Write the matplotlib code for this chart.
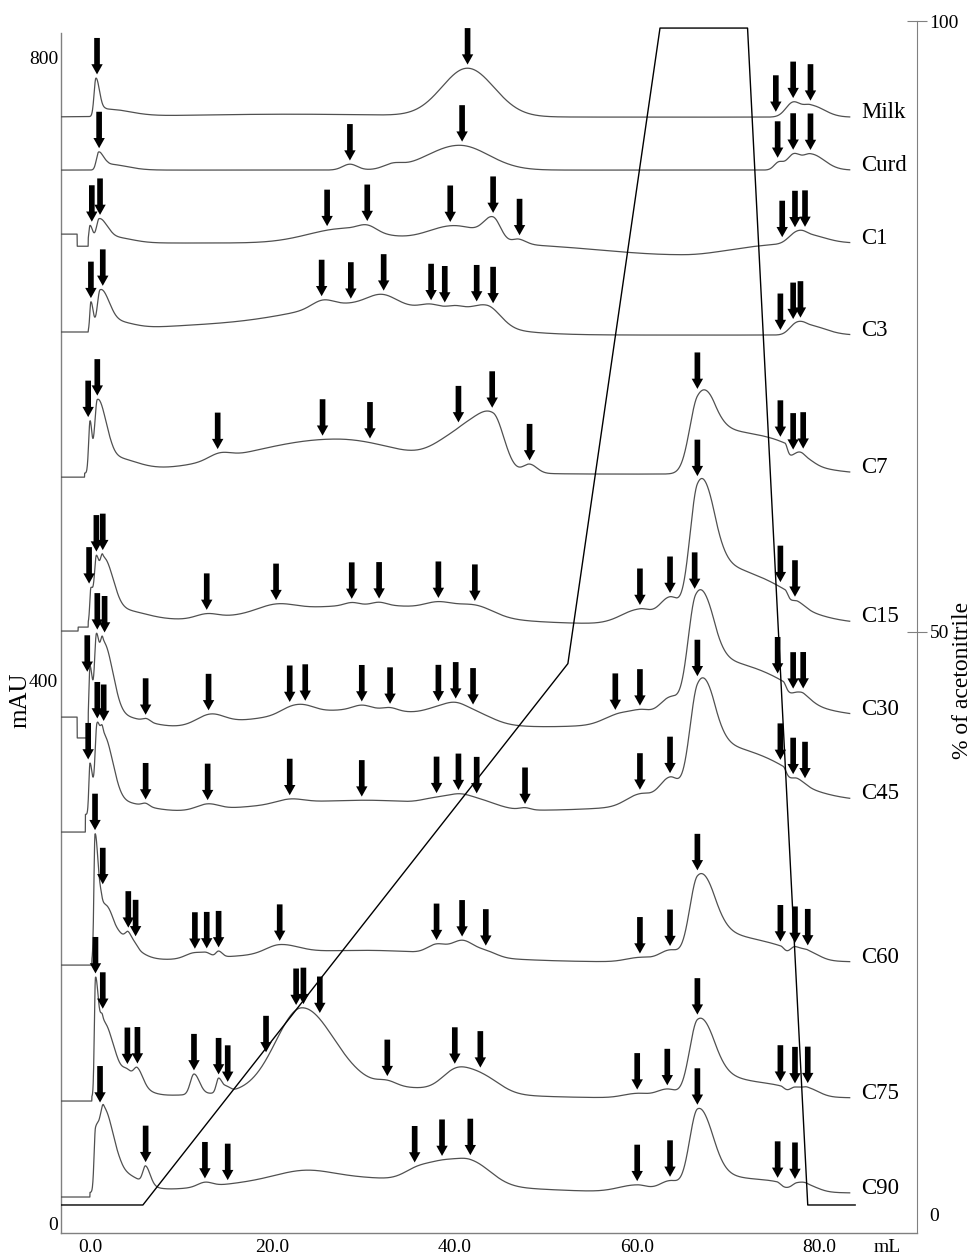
import numpy as np
import matplotlib
matplotlib.use("Agg")
import matplotlib.pyplot as plt
from matplotlib.patches import FancyArrow

plt.rcParams['font.family'] = ['Liberation Serif', 'DejaVu Serif']

# ---------------- data (x in mL, y in mAU) ----------------
samples = ["Milk", "Curd", "C1", "C3", "C7", "C15", "C30", "C45", "C60", "C75", "C90"]
baselines = [758.8, 722.5, 672.5, 609.4, 514.1, 411.3, 336.6, 280.4, 179.6, 86.4, 21.2]
# pre-injection flat segments: (end mL, level mAU)
pre_milk = []
pre_curd = []
pre_c1 = [(-1.4, 678.6), (-0.2, 670.3)]
pre_c3 = [(-0.2, 611.5)]
pre_c7 = [(-0.6, 512.0)]
pre_c15 = [(-1.3, 406.5), (-0.2, 409.2)]
pre_c30 = [(-1.4, 347.5), (-0.2, 333.2)]
pre_c45 = [(-0.5, 268.7)]
pre_c60 = [(0.2, 177.5)]
pre_c75 = [(0.2, 84.3)]
pre_c90 = [(0.0, 18.5)]

# peaks: (centre mL, height mAU, left width mL, right width mL)
peaks_milk = [(0.65, 26, 0.2, 0.4), (1.8, 5, 0.5, 2.5), (22, 2, 12, 12),
              (41.4, 33, 2.8, 2.9), (77.1, 10, 0.8, 0.8), (79.0, 8, 0.8, 1.5)]
peaks_curd = [(0.95, 12, 0.25, 0.5), (2.0, 4, 0.5, 2.0), (28.5, 4, 0.8, 0.8),
              (33.2, 3, 1.0, 1.0), (40.5, 17, 3.5, 3.2), (75.5, 5, 0.5, 0.5),
              (77.1, 10, 0.7, 0.7), (79.0, 11, 0.9, 1.5)]
peaks_c1 = [(0.0, 12, 0.12, 0.3), (1.0, 16, 0.3, 0.8), (2.5, 4, 0.8, 2.0),
            (28, 10, 4, 4), (30.4, 4, 1, 1), (40, 12, 3, 3), (44.2, 14, 1.0, 0.8),
            (47, 3, 0.6, 0.8), (65, -8, 9, 5), (77.3, 6, 0.8, 0.8), (78.5, 6, 0.8, 2)]
peaks_c3 = [(0.1, 20, 0.12, 0.25), (1.1, 26, 0.3, 0.9), (2.5, 6, 1, 2), (10, 5, 8, 8),
            (31, 22, 9, 8), (25.5, 5, 1.2, 1.2), (32, 6, 1.5, 1.5), (37.5, 5, 1.2, 1.2),
            (40, 5, 1, 1), (43.5, 14, 2, 1.5), (77.3, 6, 0.7, 0.7), (78.5, 7, 0.8, 2)]
peaks_c7 = [(0.0, 34, 0.15, 0.2), (0.8, 48, 0.3, 0.9), (2.5, 10, 1, 2.5),
            (14.2, 4, 1.2, 1.2), (27, 24, 10, 8), (40.5, 20, 2.5, 2), (44.2, 36, 2, 1.2),
            (48.2, 6, 0.7, 0.8), (66.6, 40, 0.9, 1.5), (68.5, 30, 1.5, 6.0),
            (76.2, 8, 3, 0.25), (77.6, 4, 0.5, 0.5), (78.3, 4, 0.5, 1)]
peaks_c15 = [(0.1, 24, 0.12, 0.3), (0.7, 40, 0.2, 0.3), (1.4, 42, 0.3, 1.0), (3, 9, 1, 3),
             (12.8, 3, 1.2, 1.2), (31, 13, 12, 9), (20.4, 5, 2, 2), (28.7, 2, 0.8, 0.8),
             (31.7, 2, 0.8, 0.8), (38.2, 5, 1.5, 1.5), (42.2, 7, 2, 2), (60.3, 10, 2, 1.2),
             (63.6, 18, 1.2, 1.0), (66.6, 78, 0.9, 1.5), (68.5, 40, 1.5, 6),
             (76.2, 6, 3, 0.3), (77.6, 3, 0.5, 0.8)]
peaks_c30 = [(0.0, 45, 0.12, 0.3), (0.7, 60, 0.2, 0.3), (1.4, 58, 0.3, 1.0), (3, 10, 1, 3),
             (6.2, 2, 0.4, 0.4), (13.2, 7, 1.5, 1.5), (30, 16, 12, 9), (21.9, 4, 1.2, 1.2),
             (23.6, 4, 1.2, 1.2), (29.8, 3, 1, 1), (32.9, 2, 0.8, 0.8), (38.2, 5, 1.5, 1.5),
             (40.1, 5, 1.2, 1.2), (42, 7, 2, 2), (75, 12, 15, 30), (57.6, 5, 1.5, 1.2),
             (60.3, 8, 1.5, 1.2), (63.6, 15, 1.2, 1), (66.4, 70, 0.9, 1.5), (68.5, 38, 1.5, 6),
             (76.0, 6, 3, 0.3), (77.6, 3, 0.5, 0.8), (78.3, 3, 0.5, 1)]
peaks_c45 = [(0.0, 35, 0.12, 0.3), (0.75, 55, 0.2, 0.3), (1.4, 52, 0.3, 1.0), (3, 8, 1, 3),
             (6.1, 2, 0.4, 0.4), (12.9, 4, 1.2, 1.2), (30, 10, 12, 9), (21.9, 3, 1.5, 1.5),
             (38, 4, 1.5, 1.5), (40.4, 4, 1.2, 1.2), (42.4, 6, 2, 2), (47.7, 1.5, 0.6, 0.6),
             (75, 10, 15, 30), (60.3, 8, 1.5, 1.2), (63.6, 18, 1.2, 1), (66.6, 64, 0.9, 1.5),
             (68.5, 38, 1.5, 6), (76.0, 6, 3, 0.3), (77.6, 3, 0.5, 0.8)]
peaks_c60 = [(0.55, 85, 0.12, 0.35), (1.3, 30, 0.3, 0.8), (2.5, 20, 0.8, 2.0), (4.2, 6, 0.3, 0.4),
             (5.0, 2, 0.3, 0.3), (11.5, 4, 1, 1), (12.8, 2, 0.5, 0.5), (14.1, 4, 0.3, 0.4),
             (20.8, 6, 1.5, 2), (30, 8, 12, 10), (38, 6, 1, 1), (40.8, 10, 1.2, 1.2),
             (43.4, 4, 1.2, 1.2), (60.3, 3, 1.5, 1.2), (63.6, 8, 1.2, 1), (66.6, 50, 0.9, 1.6),
             (68.5, 20, 1.5, 5), (75.7, 4, 2.5, 0.4), (77.3, 6, 0.5, 0.7), (78.7, 5, 0.6, 1.2)]
peaks_c75 = [(0.6, 80, 0.12, 0.35), (1.4, 45, 0.3, 0.9), (3, 18, 1, 2.0), (4.1, 3, 0.4, 0.4),
             (5.2, 10, 0.4, 0.6), (11.4, 14, 0.4, 0.6), (14.1, 10, 0.25, 0.4), (15.0, 3, 0.3, 0.4),
             (23.2, 55, 2.8, 3.5), (30, 8, 12, 10), (32.6, 3, 1, 1), (40.0, 12, 1.5, 1.5),
             (42.8, 12, 1.8, 2), (60, 3, 1.5, 1.2), (63.3, 6, 1.2, 1), (66.6, 47, 0.9, 1.6),
             (68.5, 15, 1.5, 5), (75.7, 3, 2, 0.4), (77.3, 4, 0.5, 0.7), (78.7, 5, 0.6, 1.2)]
peaks_c90 = [(0.6, 40, 0.15, 0.4), (1.5, 55, 0.4, 1.0), (3.5, 12, 1, 2), (6.1, 12, 0.3, 0.5),
             (12.6, 3, 0.8, 0.8), (26, 11, 10, 14), (23.5, 5, 3, 3), (36, 8, 1.5, 1.5),
             (38.6, 10, 1.5, 1.5), (41.7, 16, 1.8, 2.2), (60, 5, 2, 1.2), (63.6, 8, 1.2, 1),
             (66.6, 52, 0.9, 1.5), (68.5, 12, 1.5, 5), (75.3, 3, 2, 0.4), (77.5, 4, 0.5, 0.7),
             (78.6, 4, 0.6, 1.2)]

# arrow positions (mL)
arrows_milk = [0.77, 41.4, 75.2, 77.1, 79.0]
arrows_curd = [1.0, 28.5, 40.8, 75.4, 77.1, 79.0]
arrows_c1 = [0.2, 1.1, 26.0, 30.4, 39.5, 44.2, 47.1, 75.9, 77.3, 78.4]
arrows_c3 = [0.1, 1.4, 25.4, 28.6, 32.2, 37.4, 38.9, 42.4, 44.2, 75.7, 77.1, 77.9]
arrows_c7 = [-0.2, 0.8, 14.0, 25.5, 30.7, 40.4, 44.1, 48.2, 66.6, 75.7, 77.1, 78.2]
arrows_c15 = [-0.1, 0.7, 1.4, 12.8, 20.4, 28.7, 31.7, 38.2, 42.2, 60.3, 63.6, 66.6, 75.7, 77.3]
arrows_c30 = [-0.3, 0.8, 1.6, 6.1, 13.0, 21.9, 23.6, 29.8, 32.9, 38.2, 40.1, 42.0,
              57.6, 60.3, 66.3, 75.4, 77.1, 78.2]
arrows_c45 = [-0.2, 0.8, 1.5, 6.1, 12.9, 21.9, 29.8, 38.0, 40.4, 42.4, 47.7,
              60.3, 63.6, 66.6, 75.7, 77.1, 78.4]
arrows_c60 = [0.55, 1.4, 4.2, 5.0, 11.5, 12.8, 14.1, 20.8, 38.0, 40.8, 43.4,
              60.3, 63.6, 66.6, 75.7, 77.3, 78.7]
arrows_c75 = [0.6, 1.4, 4.1, 5.2, 11.4, 14.1, 15.1, 19.3, 22.6, 23.4, 25.2, 32.6,
              40.0, 42.8, 60.0, 63.3, 66.6, 75.7, 77.3, 78.7]
arrows_c90 = [1.1, 6.1, 12.6, 15.1, 35.6, 38.6, 41.7, 60.0, 63.6, 66.6, 75.4, 77.3]

# acetonitrile gradient (%)
grad_ml = [-3.18, 5.8, 52.4, 62.5, 72.1, 78.7, 83.9]
grad_pct = [0, 0, 46, 100, 100, 0, 0]

x_ticks = [0, 20, 40, 60, 80]
x_ticklabels = ["0.0", "20.0", "40.0", "60.0", "80.0"]

pres = [pre_milk, pre_curd, pre_c1, pre_c3, pre_c7, pre_c15, pre_c30, pre_c45, pre_c60, pre_c75, pre_c90]
peaks = [peaks_milk, peaks_curd, peaks_c1, peaks_c3, peaks_c7, peaks_c15, peaks_c30,
         peaks_c45, peaks_c60, peaks_c75, peaks_c90]
arrows = [arrows_milk, arrows_curd, arrows_c1, arrows_c3, arrows_c7, arrows_c15, arrows_c30,
          arrows_c45, arrows_c60, arrows_c75, arrows_c90]

# ---------------- drawing ----------------
W, H = 976, 1257
fig = plt.figure(figsize=(W / 100, H / 100), dpi=100)
ax = fig.add_axes([61 / W, 24 / H, (917 - 61) / W, (1233 - 21) / H])
XMIN, XMAX = -3.18, 90.68
ax.set_xlim(XMIN, XMAX)
ax.set_ylim(-6.17, 824.7)


def apeak(x, c, h, sl, sr):
    s = np.where(x < c, sl, sr)
    return h * np.exp(-0.5 * ((x - c) / s) ** 2)


def make_trace(x, base, pre, pk):
    y = np.full_like(x, base, dtype=float)
    for c, h, sl, sr in pk:
        y += apeak(x, c, h, sl, sr)
    start = x.min() - 1
    for x_end, lev in pre:
        m = (x >= start) & (x < x_end)
        y[m] = lev
        start = x_end
    return y


x = np.linspace(XMIN, 83.3, 5000)
trace_col = '#505050'
for name, base, pre, pk, arr in zip(samples, baselines, pres, peaks, arrows):
    y = make_trace(x, base, pre, pk)
    ax.plot(x, y, color=trace_col, lw=0.9, zorder=3)
    ax.text(84.6, y[-1] + 3, name, fontsize=16.5, ha='left', va='center')
    for xa in arr:
        win = (x > xa - 0.25) & (x < xa + 0.25)
        tip = y[win].max() + 2.5
        L = 25
        ax.add_patch(FancyArrow(xa, tip + L, 0, -L, width=0.62, head_width=1.25,
                                head_length=7, length_includes_head=True,
                                color='black', lw=0, zorder=4))

# spines / ticks
spine_col = '#808080'
for s in ['top', 'right']:
    ax.spines[s].set_visible(False)
for s in ['left', 'bottom']:
    ax.spines[s].set_color(spine_col)
    ax.spines[s].set_linewidth(1.0)
ax.spines['left'].set_bounds(-6.17, 816.5)
ax.set_xticks(x_ticks)
ax.set_xticklabels(x_ticklabels)
ax.set_yticks([0, 372.9, 800])
ax.set_yticklabels(["0", "400", "800"])
ax.tick_params(axis='both', length=0, labelsize=14)
ax.tick_params(axis='x', pad=4)
ax.tick_params(axis='y', pad=2)
ax.annotate("mL", xy=(87.4, 0), xycoords=('data', 'axes fraction'), xytext=(0, -4),
            textcoords='offset points', ha='center', va='top', fontsize=14)

fig.text(20 / W, 1 - 700 / H, "mAU", rotation=90, fontsize=18, ha='center', va='center')
fig.text(963 / W, 1 - 680 / H, "% of acetonitrile", rotation=90, fontsize=17,
         ha='center', va='center')

ax2 = ax.twinx()
ax2.set_ylim(-2.38, 100.6)
ax2.plot(grad_ml, grad_pct, color='black', lw=1.0, zorder=2)
for s in ['top', 'left', 'bottom']:
    ax2.spines[s].set_visible(False)
ax2.spines['right'].set_color(spine_col)
ax2.set_yticks([100.6, 48.7, -0.85])
ax2.set_yticklabels(["100", "50", "0"])
ax2.tick_params(axis='y', direction='inout', length=14, color=spine_col, labelsize=14, pad=2)
ax2.yaxis.get_major_ticks()[2].tick2line.set_visible(False)
ax2.yaxis.get_major_ticks()[2].tick1line.set_visible(False)

fig.savefig("out.png", dpi=100)
